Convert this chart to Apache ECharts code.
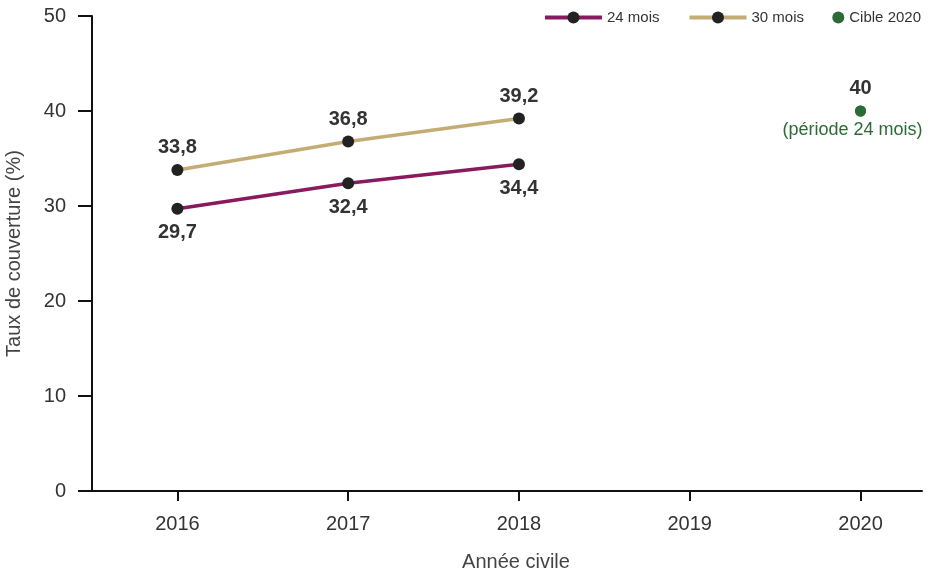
<!DOCTYPE html>
<html><head><meta charset="utf-8">
<script src="https://cdn.jsdelivr.net/npm/echarts@6/dist/echarts.min.js"></script>
<style>html,body{margin:0;padding:0;background:#fff}#c{width:930px;height:571px}</style>
</head><body><div id="c"></div>
<script>
const years = [2016, 2017, 2018, 2019, 2020];
const mois24 = [29.7, 32.4, 34.4];
const mois30 = [33.8, 36.8, 39.2];
const cibleYear = 2020;
const cibleValue = 40;

const fmt = v => String(v).replace('.', ',');
const FONT = '"Liberation Sans", Arial, sans-serif';
const chart = echarts.init(document.getElementById('c'));
chart.setOption({
  animation: false,
  textStyle: { fontFamily: FONT },
  grid: { left: 92, right: 8, top: 16, bottom: 80, containLabel: false, outerBoundsMode: 'none' },
  legend: [{
    data: ['24 mois', '30 mois'],
    right: 121, top: 5, itemWidth: 57, itemHeight: 15, itemGap: 28,
    lineStyle: { width: 4 },
    textStyle: { fontSize: 15, color: '#333', fontFamily: FONT }
  }, {
    data: ['Cible 2020'],
    right: 4, top: 5, itemWidth: 12, itemHeight: 12, itemGap: 6,
    textStyle: { fontSize: 15, color: '#333', fontFamily: FONT }
  }],
  xAxis: {
    type: 'value', min: 2015.5, max: 2020.36,
    name: 'Année civile', nameLocation: 'middle', nameGap: 61,
    nameTextStyle: { fontSize: 20, color: '#444', fontFamily: FONT, padding: [0, 0, 0, 18] },
    axisLine: { show: true, lineStyle: { color: '#111', width: 2 } },
    axisTick: { show: true, customValues: years, length: 10, lineStyle: { color: '#111', width: 2 } },
    axisLabel: { customValues: years, fontSize: 20, color: '#333', margin: 23, formatter: v => String(v) },
    splitLine: { show: false }
  },
  yAxis: {
    type: 'value', min: 0, max: 50, interval: 10,
    name: 'Taux de couverture (%)', nameLocation: 'middle', nameGap: 68,
    nameTextStyle: { fontSize: 20, color: '#444', fontFamily: FONT },
    axisLine: { show: true, lineStyle: { color: '#111', width: 2 } },
    axisTick: { show: true, length: 14, lineStyle: { color: '#111', width: 2 } },
    axisLabel: { fontSize: 20, color: '#333', margin: 26 },
    splitLine: { show: false }
  },
  series: [{
    name: '24 mois', type: 'line',
    data: mois24.map((v, i) => [years[i], v]),
    lineStyle: { color: '#8a1a5f', width: 3.5 },
    itemStyle: { color: '#222' },
    symbol: 'circle', symbolSize: 12,
    label: { show: true, position: 'bottom', distance: 8, fontSize: 20, fontWeight: 'bold', color: '#333', formatter: p => fmt(p.value[1]) },
    z: 3
  }, {
    name: '30 mois', type: 'line',
    data: mois30.map((v, i) => [years[i], v]),
    lineStyle: { color: '#c4ad75', width: 3.5 },
    itemStyle: { color: '#222' },
    symbol: 'circle', symbolSize: 12,
    label: { show: true, position: 'top', distance: 6, fontSize: 20, fontWeight: 'bold', color: '#333', formatter: p => fmt(p.value[1]) },
    z: 3
  }, {
    name: 'Cible 2020', type: 'scatter',
    data: [[cibleYear, cibleValue]],
    symbol: 'circle', symbolSize: 11,
    itemStyle: { color: '#2b6b35', opacity: 1 },
    label: { show: true, position: 'top', distance: 7, fontSize: 20, fontWeight: 'bold', color: '#333', formatter: p => fmt(p.value[1]) }
  }, {
    name: 'cible-note', type: 'scatter',
    data: [[cibleYear, cibleValue]],
    symbol: 'circle', symbolSize: 11,
    itemStyle: { color: '#2b6b35', opacity: 1 },
    label: { show: true, position: 'bottom', distance: 5, offset: [-8, 0], fontSize: 18, color: '#2b6b35', formatter: '(période 24 mois)' }
  }]
});
</script></body></html>
